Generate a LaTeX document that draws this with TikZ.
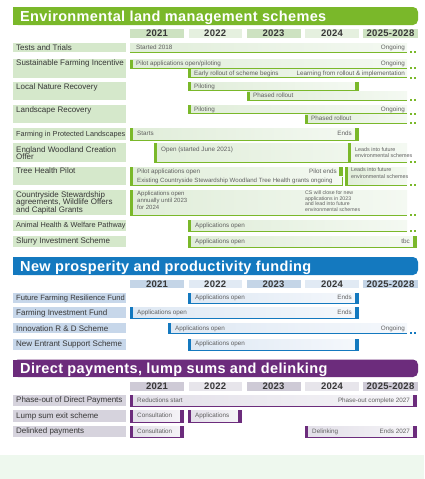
\documentclass[tikz,border=0pt]{standalone}
\usepackage{fontspec}
\setmainfont{Liberation Sans}
\newfontfamily\titlefont{Liberation Sans}[LetterSpace=2.5]
\newfontfamily\yearfont{Liberation Sans}[LetterSpace=3]
\definecolor{gM}{RGB}{122,184,42}
\definecolor{gLab}{RGB}{213,232,203}
\definecolor{gYD}{RGB}{205,226,193}
\definecolor{gYL}{RGB}{229,240,223}
\definecolor{gL}{RGB}{224,237,217}
\definecolor{gR}{RGB}{244,249,242}
\definecolor{bM}{RGB}{20,121,191}
\definecolor{bLab}{RGB}{199,215,234}
\definecolor{bYD}{RGB}{196,213,231}
\definecolor{bYL}{RGB}{225,234,244}
\definecolor{bL}{RGB}{222,232,243}
\definecolor{bR}{RGB}{245,248,252}
\definecolor{pM}{RGB}{108,44,124}
\definecolor{pLab}{RGB}{214,211,221}
\definecolor{pYD}{RGB}{206,202,214}
\definecolor{pYL}{RGB}{231,229,235}
\definecolor{pL}{RGB}{226,223,232}
\definecolor{pR}{RGB}{246,245,248}
\definecolor{bottomgreen}{RGB}{238,248,238}
\definecolor{labgray}{RGB}{55,55,55}
\definecolor{bargray}{RGB}{95,95,95}
\newcommand\sbar[5]{\fill[left color=#1L,right color=#1R] (#2,#3) rectangle (#4,#5);
  \draw[#1M,line width=0.9pt] (#2,#5) -- (#4,#5);}
\newcommand\lcap[4]{\fill[#1M] (#2,#3) rectangle ({#2+3},#4);}
\newcommand\rcap[4]{\fill[#1M] ({#2-4},#3) rectangle (#2,#4);}
\newcommand\edots[3]{\fill[#1M] ({#2+2.5},{#3-1}) rectangle ++(2,2);
  \fill[#1M] ({#2+6.5},{#3-1}) rectangle ++(2,2);}
\newcommand\labbox[3]{\fill[#1Lab] (13,#2) rectangle (126,#3);}
\newcommand\hdr[3]{\fill[#1M,rounded corners=5pt] (13,#2) rectangle (418,#3);
  \fill[#1M] (13,#2) rectangle (200,#3);}
\newcommand\years[3]{%
  \fill[#1YD] (130,#2) rectangle (184,#3);
  \fill[#1YL] (188.5,#2) rectangle (242,#3);
  \fill[#1YD] (246.5,#2) rectangle (300.5,#3);
  \fill[#1YL] (305,#2) rectangle (359,#3);
  \fill[#1YD] (363,#2) rectangle (418,#3);
  \node[yr] (#1y1) at (157,{(#2+#3)/2}) {2021};
  \node[yr] (#1y2) at (215.2,{(#2+#3)/2}) {2022};
  \node[yr] (#1y3) at (273.5,{(#2+#3)/2}) {2023};
  \node[yr] (#1y4) at (332,{(#2+#3)/2}) {2024};
  \node[yr] (#1y5) at (390.5,{(#2+#3)/2}) {2025-2028};}
\tikzset{
  lt/.style={anchor=base west, inner sep=0pt, text=labgray, font=\fontsize{8}{9}\selectfont},
  ltm/.style={anchor=north west, inner sep=0pt, align=left, text=labgray, font=\fontsize{8}{7.9}\selectfont},
  bt/.style={anchor=base west, inner sep=0pt, text=bargray, font=\fontsize{6.3}{7}\selectfont},
  btr/.style={bt, anchor=base east},
  note/.style={anchor=north west, inner sep=0pt, align=left, text=bargray, font=\fontsize{5.4}{6.6}\selectfont},
  notec/.style={note, font=\fontsize{5.2}{5.7}\selectfont},
  note2/.style={note, font=\fontsize{6}{7.3}\selectfont},
  yr/.style={inner sep=0pt, text=labgray, font=\yearfont\bfseries\fontsize{9.5}{10}\selectfont},
  ttl/.style={anchor=base west, inner sep=0pt, text=white, font=\titlefont\bfseries\fontsize{14.5}{16}\selectfont}
}
\begin{document}
\begin{tikzpicture}[x=1pt,y=-1pt]
\useasboundingbox (0,0) rectangle (424,479);
\fill[white] (0,0) rectangle (424,479);
\fill[bottomgreen] (0,455) rectangle (424,479);
% ===== Environmental land management schemes =====
\hdr{g}{7}{25}
\node[ttl] (t1) at (20,21.8) {Environmental land management schemes};
\years{g}{29}{38}
% Tests and Trials
\labbox{g}{43}{52}
\node[lt] (l1) at (16,50.3) {Tests and Trials};
\sbar{g}{130}{43}{407}{52} \edots{g}{407}{52}
\node[bt] (b1a) at (136,49) {Started 2018};
\node[btr] (b1b) at (405,49) {Ongoing};
% SFI
\labbox{g}{59}{78}
\node[lt] (l2) at (16,65) {Sustainable Farming Incentive};
\sbar{g}{130}{59.5}{407}{68} \lcap{g}{130}{59.5}{68} \edots{g}{407}{68}
\node[bt] (b2a) at (136,65.5) {Pilot applications open/piloting};
\node[btr] (b2b) at (405,65.5) {Ongoing};
\sbar{g}{188}{69}{407}{77.5} \lcap{g}{188}{69}{77.5} \edots{g}{407}{77.5}
\node[bt] (b2c) at (194,75) {Early rollout of scheme begins};
\node[btr] (b2d) at (405,75) {Learning from rollout \& implementation};
% LNR
\labbox{g}{82}{100}
\node[lt] (l3) at (16,89.5) {Local Nature Recovery};
\sbar{g}{188}{82}{359}{90.5} \lcap{g}{188}{82}{90.5} \rcap{g}{359}{82}{90.5}
\node[bt] (b3a) at (194,88) {Piloting};
\sbar{g}{247}{91.5}{407}{100} \lcap{g}{247}{91.5}{100} \edots{g}{407}{100}
\node[bt] (b3b) at (253,97.5) {Phased rollout};
% LR
\labbox{g}{105}{123}
\node[lt] (l4) at (16,112.8) {Landscape Recovery};
\sbar{g}{188}{105}{407}{113.5} \lcap{g}{188}{105}{113.5} \edots{g}{407}{113.5}
\node[bt] (b4a) at (194,111) {Piloting};
\node[btr] (b4b) at (405,111) {Ongoing};
\sbar{g}{305}{114.5}{407}{123} \lcap{g}{305}{114.5}{123} \edots{g}{407}{123}
\node[bt] (b4c) at (311,120.5) {Phased rollout};
% FiPL
\labbox{g}{128}{140}
\node[lt,font=\fontsize{7.3}{8}\selectfont] (l5) at (16,136.2) {Farming in Protected Landscapes};
\sbar{g}{130}{128}{359}{140} \lcap{g}{130}{128}{140} \rcap{g}{359}{128}{140}
\node[bt] (b5a) at (137,135.5) {Starts};
\node[btr] (b5b) at (352,135.5) {Ends};
% EWCO
\labbox{g}{143}{162}
\node[ltm] (l6) at (16,146) {England Woodland Creation\\Offer};
\sbar{g}{154}{143}{407}{162} \lcap{g}{154}{143}{162} \lcap{g}{348}{143}{162} \edots{g}{407}{162}
\node[bt] (b6a) at (161,151) {Open (started June 2021)};
\node[note] (b6b) at (355,147) {Leads into future\\environmental schemes};
% Tree Health Pilot
\labbox{g}{167}{185}
\node[lt] (l7) at (16,173.8) {Tree Health Pilot};
\sbar{g}{130}{167}{343}{176} \rcap{g}{343}{167}{176}
\sbar{g}{130}{176.5}{343}{185} \fill[gM] (341.5,176.5) rectangle (343,185);
\lcap{g}{130}{167}{185}
\node[bt] (b7a) at (137,173) {Pilot applications open};
\node[btr] (b7b) at (337,173) {Pilot ends};
\node[bt,font=\fontsize{6.1}{7}\selectfont] (b7c) at (137,182.6) {Existing Countryside Stewardship Woodland Tree Health grants ongoing};
\sbar{g}{345}{167}{407}{185} \lcap{g}{345}{167}{185} \edots{g}{407}{185}
\node[note] (b7d) at (351,167.5) {Leads into future\\environmental schemes};
% Countryside Stewardship
\labbox{g}{190}{215}
\node[ltm] (l8) at (16,191) {Countryside Stewardship\\agreements, Wildlife Offers\\and Capital Grants};
\sbar{g}{130}{190}{407}{215} \lcap{g}{130}{190}{215} \edots{g}{407}{215}
\node[note2] (b8a) at (137,190.5) {Applications open\\annually until 2023\\for 2024};
\node[notec] (b8b) at (305,190.5) {CS will close for new\\applications in 2023\\and lead into future\\environmental schemes};
% AHWP
\labbox{g}{220}{231}
\node[lt,font=\fontsize{7.3}{8}\selectfont] (l9) at (16,227.6) {Animal Health \& Welfare Pathway};
\sbar{g}{188}{220}{407}{231} \lcap{g}{188}{220}{231} \edots{g}{407}{231}
\node[bt] (b9a) at (195,227) {Applications open};
% Slurry
\labbox{g}{236}{247}
\node[lt] (l10) at (16,243.8) {Slurry Investment Scheme};
\sbar{g}{188}{236}{417}{247} \lcap{g}{188}{236}{247} \rcap{g}{417}{236}{247}
\node[bt] (b10a) at (195,243) {Applications open};
\node[btr] (b10b) at (410,243) {tbc};
% ===== New prosperity and productivity funding =====
\hdr{b}{257}{275}
\node[ttl] (t2) at (20,271) {New prosperity and productivity funding};
\years{b}{280}{288}
\labbox{b}{293}{303}
\node[lt,font=\fontsize{7.6}{8}\selectfont] (l11) at (16,300) {Future Farming Resilience Fund};
\sbar{b}{188}{293}{359}{303} \lcap{b}{188}{293}{303} \rcap{b}{359}{293}{303}
\node[bt] (b11a) at (195,299.5) {Applications open};
\node[btr] (b11b) at (352,299.5) {Ends};
\labbox{b}{307}{318}
\node[lt] (l12) at (16,315.5) {Farming Investment Fund};
\sbar{b}{130}{307}{359}{318} \lcap{b}{130}{307}{318} \rcap{b}{359}{307}{318}
\node[bt] (b12a) at (137,314.5) {Applications open};
\node[btr] (b12b) at (352,314.5) {Ends};
\labbox{b}{323}{333}
\node[lt] (l13) at (16,331) {Innovation R \& D Scheme};
\sbar{b}{168}{323}{407}{333} \lcap{b}{168}{323}{333} \edots{b}{407}{333}
\node[bt] (b13a) at (175,330) {Applications open};
\node[btr] (b13b) at (405,330) {Ongoing};
\labbox{b}{339}{350}
\node[lt] (l14) at (16,346.5) {New Entrant Support Scheme};
\sbar{b}{188}{339}{359}{350} \lcap{b}{188}{339}{350} \rcap{b}{359}{339}{350}
\node[bt] (b14a) at (195,345.5) {Applications open};
% ===== Direct payments =====
\hdr{p}{359.5}{377}
\node[ttl] (t3) at (20,373.3) {Direct payments, lump sums and delinking};
\years{p}{382}{391}
\labbox{p}{395}{406}
\node[lt] (l15) at (16,402.8) {Phase-out of Direct Payments};
\sbar{p}{130}{395}{417}{406} \lcap{p}{130}{395}{406} \rcap{p}{417}{395}{406}
\node[bt] (b15a) at (137,402) {Reductions start};
\node[btr] (b15b) at (410,402) {Phase-out complete 2027};
\labbox{p}{410}{422}
\node[lt] (l16) at (16,418.5) {Lump sum exit scheme};
\sbar{p}{130}{410}{184}{422} \lcap{p}{130}{410}{422} \rcap{p}{184}{410}{422}
\node[bt] (b16a) at (137,417.5) {Consultation};
\sbar{p}{188}{410}{242}{422} \lcap{p}{188}{410}{422} \rcap{p}{242}{410}{422}
\node[bt] (b16b) at (195,417.5) {Applications};
\labbox{p}{426}{437}
\node[lt] (l17) at (16,433.8) {Delinked payments};
\sbar{p}{130}{426}{184}{437} \lcap{p}{130}{426}{437} \rcap{p}{184}{426}{437}
\node[bt] (b17a) at (137,433) {Consultation};
\sbar{p}{305}{426}{417}{437} \lcap{p}{305}{426}{437} \rcap{p}{417}{426}{437}
\node[bt] (b17b) at (312,433) {Delinking};
\node[btr] (b17c) at (410,433) {Ends 2027};
\end{tikzpicture}
\end{document}
